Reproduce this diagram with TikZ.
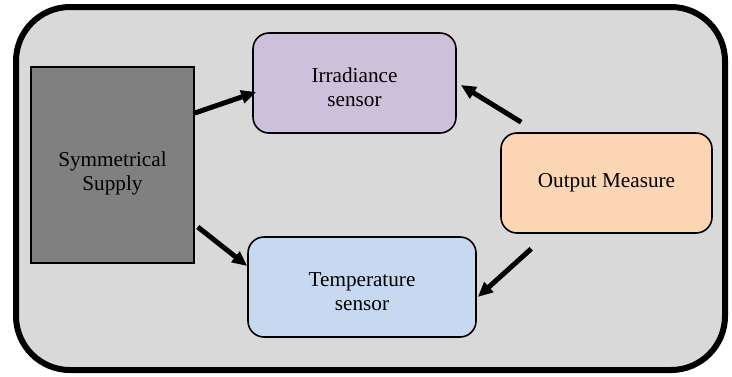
\documentclass[tikz,border=0pt]{standalone}
\usepackage{fontspec}
\setmainfont{Liberation Serif}
\usepackage{tikz}
\usetikzlibrary{arrows.meta, positioning}
\definecolor{framegray}{HTML}{D9D9D9}
\definecolor{supplygray}{HTML}{808080}
\definecolor{irrpurple}{HTML}{CCC0DA}
\definecolor{tempblue}{HTML}{C6D9F1}
\definecolor{outorange}{HTML}{FCD5B5}
\tikzset{
    block/.style={rectangle, draw, line width=0.8pt, text centered, rounded corners=8pt, minimum height=50pt, inner sep=2pt},
    supplyblock/.style={rectangle, draw, line width=0.8pt, fill=supplygray, text centered, minimum width=81.5pt, minimum height=98pt},
    twoline/.style={align=center, text height=24pt},
    arrow/.style={-{Triangle[length=7.5pt, width=6.5pt]}, line width=2.5pt},
}

\begin{document}
\begin{tikzpicture}[x=0.5pt, y=-0.5pt, font=\fontsize{10.6}{12.2}\selectfont]

\useasboundingbox (0,0) rectangle (732,376);

% Frame
\draw[line width=3pt, fill=framegray, rounded corners=27pt] (16,7) rectangle (725,370);

% Blocks
\node[supplyblock, twoline, text height=28pt] (supply) at (112.5,165) {Symmetrical\\Supply};
\node[block, twoline, fill=irrpurple, minimum width=101.5pt] (irr) at (354.5,83) {Irradiance\\sensor};
\node[block, twoline, fill=tempblue, minimum width=114pt] (temp) at (362,287) {Temperature\\sensor};
\node[block, fill=outorange, minimum width=105.5pt] (out) at (606.5,183) {Output Measure};

% Arrows
\draw[arrow] ([shift={(0pt,26pt)}]supply.east) -- ([shift={(2pt,-4.5pt)}]irr.west);
\draw[arrow] ([shift={(10.5pt,5pt)}]out.north west) -- ([shift={(2pt,-1pt)}]irr.east);
\draw[arrow] ([shift={(1.5pt,-31pt)}]supply.east) -- ([shift={(0pt,10.5pt)}]temp.west);
\draw[arrow] ([shift={(15.5pt,-7.5pt)}]out.south west) -- ([shift={(0.5pt,-5pt)}]temp.east);

\end{tikzpicture}
\end{document}
